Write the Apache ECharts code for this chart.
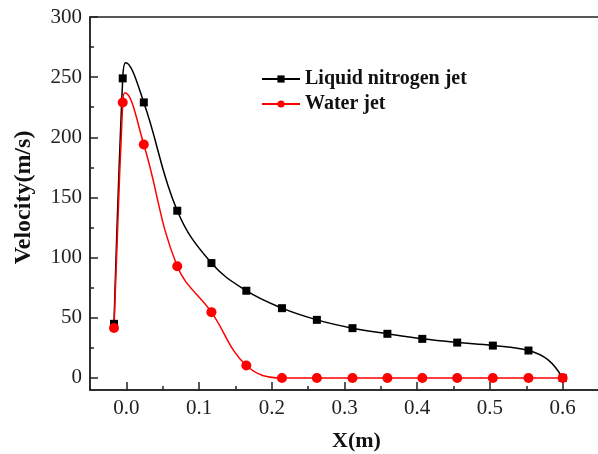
<!DOCTYPE html>
<html>
<head>
<meta charset="utf-8">
<script src="https://cdn.jsdelivr.net/npm/echarts@6/dist/echarts.min.js"></script>
<style>
html,body{margin:0;padding:0;background:#fff;}
#chart{width:598px;height:454px;}
</style>
</head>
<body>
<div id="chart"></div>
<script>
// Marker positions (x in m)
var xPos = [-0.017, -0.005, 0.024, 0.070, 0.117, 0.165, 0.214, 0.262, 0.311, 0.359, 0.407, 0.455, 0.504, 0.553, 0.600];
var nitrogen = [45, 249, 229, 139, 95.5, 72.5, 58, 48.3, 41.4, 36.7, 32.5, 29.4, 26.9, 22.8, 0];
var water = [41.5, 229, 194, 92.8, 54.7, 10.3, 0, 0, 0, 0, 0, 0, 0, 0, 0];
// Unmarked points (peaks, bend)
var nitrogenExtraX = [-0.001, 0.580];
var nitrogenExtraY = [262, 15];
var waterExtraX = [-0.002];
var waterExtraY = [237];

var xLabels = [0.0, 0.1, 0.2, 0.3, 0.4, 0.5, 0.6];
var xMinor = [-0.05, 0.05, 0.15, 0.25, 0.35, 0.45, 0.55, 0.65];
var yLabels = [0, 50, 100, 150, 200, 250, 300];
var yMinor = [25, 75, 125, 175, 225, 275];

function buildData(xs, ys, ex, ey) {
  var pts = [];
  for (var i = 0; i < xs.length; i++) pts.push({value: [xs[i], ys[i]]});
  for (var j = 0; j < ex.length; j++) pts.push({value: [ex[j], ey[j]], symbol: 'none'});
  pts.sort(function (a, b) { return a.value[0] - b.value[0]; });
  return pts;
}

var font = 'Liberation Serif, Times New Roman, serif';
var chart = echarts.init(document.getElementById('chart'));
var axisColor = '#222';

chart.setOption({
  animation: false,
  backgroundColor: '#fff',
  textStyle: {fontFamily: font},
  grid: {left: 90, right: -1, top: 17, bottom: 64, show: true, borderColor: axisColor, borderWidth: 1.5,
    backgroundColor: 'transparent', containLabel: false, outerBoundsMode: 'none'},
  legend: {
    orient: 'vertical', left: 261, top: 69, padding: 0, itemWidth: 38, itemHeight: 9, itemGap: 5,
    textStyle: {fontFamily: font, fontWeight: 'bold', fontSize: 20, color: '#111'},
    data: ['Liquid nitrogen jet', 'Water jet']
  },
  xAxis: [{
    type: 'value', min: -0.05, max: 0.65,
    name: 'X(m)', nameLocation: 'middle', nameGap: 40,
    nameTextStyle: {fontFamily: font, fontWeight: 'bold', fontSize: 22, color: '#111', padding: [0, 0, 0, 24]},
    axisLine: {show: true, onZero: false, lineStyle: {color: axisColor, width: 1.5}},
    axisTick: {show: true, inside: true, length: 8, customValues: xLabels, lineStyle: {color: axisColor, width: 1.5}},
    axisLabel: {customValues: xLabels, margin: 8, fontFamily: font, fontSize: 21, color: '#222',
      formatter: function (v) { return v.toFixed(1); }},
    splitLine: {show: false}
  }, {
    type: 'value', min: -0.05, max: 0.65, position: 'bottom',
    axisLine: {show: false, onZero: false},
    axisTick: {show: true, inside: true, length: 4, customValues: xMinor, lineStyle: {color: axisColor, width: 1.5}},
    axisLabel: {show: false}, splitLine: {show: false}
  }],
  yAxis: [{
    type: 'value', min: -10, max: 300,
    name: 'Velocity(m/s)', nameLocation: 'middle', nameGap: 54,
    nameTextStyle: {fontFamily: font, fontWeight: 'bold', fontSize: 24, color: '#111', padding: [0, 0, 0, 12]},
    axisLine: {show: true, onZero: false, lineStyle: {color: axisColor, width: 1.5}},
    axisTick: {show: true, inside: true, length: 8, customValues: yLabels, lineStyle: {color: axisColor, width: 1.5}},
    axisLabel: {customValues: yLabels, margin: 8, fontFamily: font, fontSize: 21, color: '#222'},
    splitLine: {show: false}
  }, {
    type: 'value', min: -10, max: 300, position: 'left',
    axisLine: {show: false, onZero: false},
    axisTick: {show: true, inside: true, length: 4, customValues: yMinor, lineStyle: {color: axisColor, width: 1.5}},
    axisLabel: {show: false}, splitLine: {show: false}
  }],
  series: [{
    name: 'Liquid nitrogen jet', type: 'line', smooth: 0.4,
    data: buildData(xPos, nitrogen, nitrogenExtraX, nitrogenExtraY),
    symbol: 'rect', symbolSize: 8, showAllSymbol: true,
    lineStyle: {color: '#000', width: 1.5}, itemStyle: {color: '#000'}
  }, {
    name: 'Water jet', type: 'line', smooth: 0.4,
    data: buildData(xPos, water, waterExtraX, waterExtraY),
    symbol: 'circle', symbolSize: 10, showAllSymbol: true,
    lineStyle: {color: '#ff0000', width: 1.5}, itemStyle: {color: '#ff0000'}
  }]
});
</script>
</body>
</html>
